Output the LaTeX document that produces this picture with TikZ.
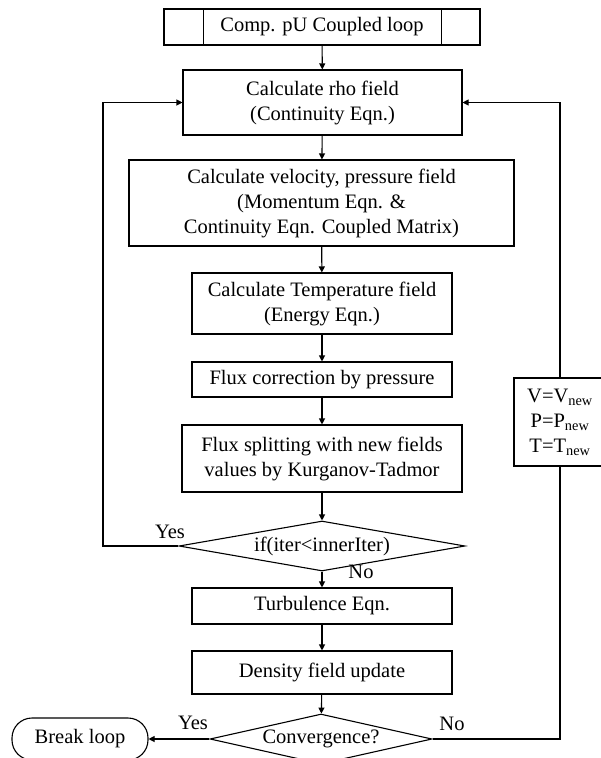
\documentclass[tikz,border=0pt]{standalone}
\usepackage{fontspec}
\setmainfont{Liberation Serif}
\usetikzlibrary{shapes.geometric,arrows.meta}
\begin{document}
\begin{tikzpicture}[x=1pt,y=-1pt,
  every node/.style={font=\fontsize{20.5}{25}\selectfont},
  box/.style={draw,line width=1.1pt,inner sep=0pt,align=center},
  dia/.style={draw,diamond,line width=1.1pt,inner sep=0pt,align=center},
  term/.style={draw,rounded corners=20pt,line width=1.1pt,inner sep=0pt,align=center},
  lbl/.style={inner sep=0pt},
  conn/.style={line width=1.1pt},
  arr/.style={line width=1.1pt,-{Triangle[width=6pt,length=6pt]}}]
\clip (0,0) rectangle (601,758);
\fill[white] (0,0) rectangle (601,758);
% nodes
\node[box,minimum width=316pt,minimum height=36pt] (top) at (322,27) {Comp. pU Coupled loop};
\draw[conn] ([xshift=40pt]top.north west) -- ([xshift=40pt]top.south west);
\draw[conn] ([xshift=-39pt]top.north east) -- ([xshift=-39pt]top.south east);
\node[box,minimum width=279pt,minimum height=65pt] (b1) at (322.5,102.5) {Calculate rho field\\(Continuity Eqn.)};
\node[box,minimum width=385pt,minimum height=86pt] (b2) at (321.5,203) {Calculate velocity, pressure field\\(Momentum Eqn. \&\\Continuity Eqn. Coupled Matrix)};
\node[box,minimum width=260pt,minimum height=61pt] (b3) at (322,303.5) {Calculate Temperature field\\(Energy Eqn.)};
\node[box,minimum width=260pt,minimum height=35pt] (b4) at (322,379.5) {Flux correction by pressure};
\node[box,minimum width=280pt,minimum height=67pt] (b5) at (322,458.5) {Flux splitting with new fields\\values by Kurganov-Tadmor};
\node[dia,shape aspect=5.7,minimum width=286pt,minimum height=50pt] (d1) at (322,546) {if(iter<innerIter)};
\node[box,minimum width=260pt,minimum height=36pt] (b6) at (322,606) {Turbulence Eqn.};
\node[box,minimum width=260pt,minimum height=43pt] (b7) at (322,672.5) {Density field update};
\node[dia,shape aspect=4.4,minimum width=222pt,minimum height=50pt] (d2) at (321,739) {Convergence?};
\node[term,minimum width=136pt,minimum height=42pt] (brk) at (80,739) {Break loop};
\node[box,minimum width=92pt,minimum height=88pt] (v) at (560,422) {V=V\textsubscript{new}\\P=P\textsubscript{new}\\T=T\textsubscript{new}};
% labels
\node[lbl] (y1) at (170,532) {Yes};
\node[lbl] (n1) at (361,572) {No};
\node[lbl] (y2) at (193,723) {Yes};
\node[lbl] (n2) at (452,724) {No};
\coordinate (lc) at (103,546);
% connectors
\draw[arr] (top) -- (b1);
\draw[arr] (b1) -- (b2);
\draw[arr] (b2) -- (b3);
\draw[arr] (b3) -- (b4);
\draw[arr] (b4) -- (b5);
\draw[arr] (b5) -- (d1);
\draw[arr] (d1) -- (b6);
\draw[arr] (b6) -- (b7);
\draw[arr] (b7) -- (d2);
\draw[arr] (d1.west) -- (lc) |- (b1.west);
\draw[arr] (d2.west) -- (brk.east);
\draw[conn] (d2.east) -| (v.south);
\draw[arr] (v.north) |- (b1.east);
\end{tikzpicture}
\end{document}
